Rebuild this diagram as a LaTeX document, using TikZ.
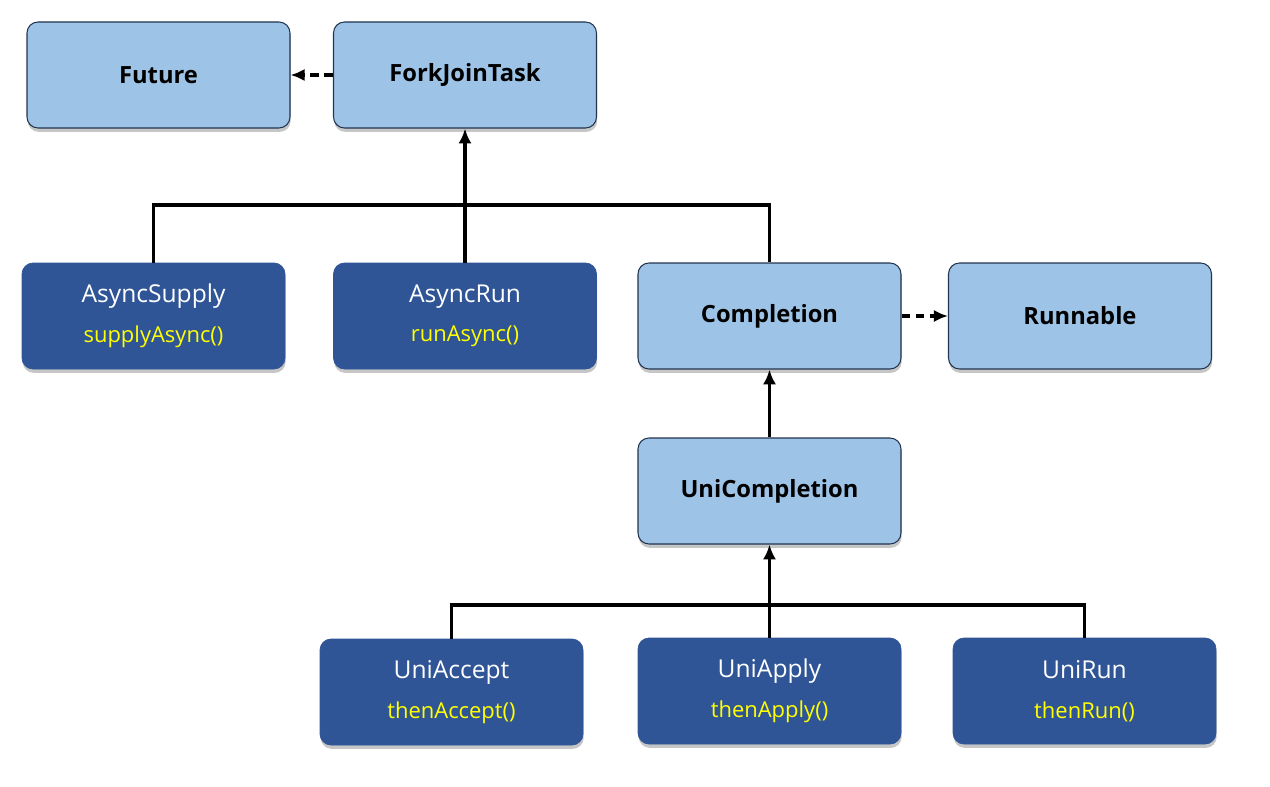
\documentclass[tikz,border=0pt]{standalone}
\usepackage{fontspec}
\setmainfont{Open Sans}
\usepackage{tikz}
\usetikzlibrary{arrows.meta,shadows,positioning}

\definecolor{lightbox}{HTML}{9DC3E6}
\definecolor{darkbox}{HTML}{2F5597}
\definecolor{boxline}{HTML}{22344F}
\definecolor{methodtext}{HTML}{FFFF00}

\tikzset{
  classbox/.style={rectangle, rounded corners=0.22cm, minimum width=5.26cm, minimum height=2.12cm, inner sep=0pt,
    drop shadow={shadow xshift=0.4pt, shadow yshift=-2.2pt, opacity=0.45}},
  ifacebox/.style={classbox, fill=lightbox, draw=boxline, line width=0.6pt, font=\fontsize{13.5}{16}\selectfont\bfseries},
  implbox/.style={classbox, fill=darkbox, draw=darkbox, text=white, align=center, font=\fontsize{14}{17}\selectfont},
  extends/.style={line width=2pt, -{Latex[length=8.5pt,width=7.5pt]}},
  realizes/.style={line width=2pt, dash pattern=on 5pt off 3pt, -{Latex[length=8pt,width=7pt]}}
}
\newcommand{\method}[1]{{\fontsize{12.5}{15}\selectfont\color{methodtext}#1}}

\begin{document}
\begin{tikzpicture}
	\useasboundingbox (0,0) rectangle (25.4,15.72);
	% top row
	\node[ifacebox] (future) at (3.17,14.22) {Future};
	\node[ifacebox] (forkjoin) at (9.30,14.22) {ForkJoinTask};
	% middle row
	\node[implbox] (asyncsupply) at (3.07,9.40) {AsyncSupply\\[5.5pt]\method{supplyAsync()}};
	\node[implbox] (asyncrun) at (9.30,9.40) {AsyncRun\\[5.5pt]\method{runAsync()}};
	\node[ifacebox] (completion) at (15.39,9.40) {Completion};
	\node[ifacebox] (runnable) at (21.60,9.40) {Runnable};
	\node[ifacebox] (unicompletion) at (15.39,5.90) {UniCompletion};
	% bottom row
	\node[implbox] (uniaccept) at (9.03,1.88) {UniAccept\\[5.5pt]\method{thenAccept()}};
	\node[implbox] (uniapply) at (15.39,1.90) {UniApply\\[5.5pt]\method{thenApply()}};
	\node[implbox] (unirun) at (21.69,1.90) {UniRun\\[5.5pt]\method{thenRun()}};
	% bus points
	\coordinate (topbus) at (9.30,11.62);
	\coordinate (lowbus) at (15.39,3.62);
	% connectors
	\draw[realizes] (forkjoin) -- (future);
	\draw[realizes] (completion) -- (runnable);
	\draw[extends] (asyncrun) -- (forkjoin);
	\draw[line width=2pt] (asyncsupply.north) |- (topbus) -| (completion.north);
	\draw[extends] (unicompletion) -- (completion);
	\draw[extends] (uniapply) -- (unicompletion);
	\draw[line width=2pt] (uniaccept.north) |- (lowbus) -| (unirun.north);
\end{tikzpicture}
\end{document}
